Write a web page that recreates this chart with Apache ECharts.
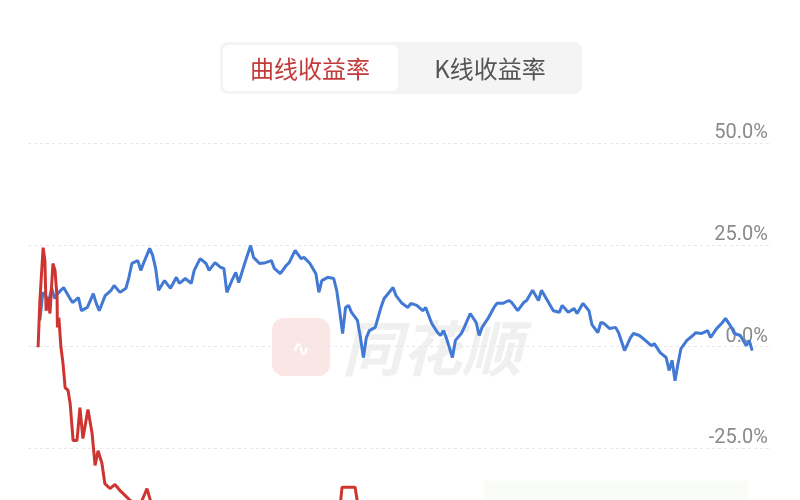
<!DOCTYPE html>
<html>
<head>
<meta charset="utf-8">
<script src="https://cdn.jsdelivr.net/npm/echarts@6/dist/echarts.min.js"></script>
<style>
html,body{margin:0;padding:0;background:#fff;overflow:hidden;}
#c{width:800px;height:560px;}
</style>
</head>
<body>
<div id="c"></div>
<script>
// Trading-day index (x) and return in % (y)
const blueDays = [4,5,7,8,9,10,12,14,15,17,18,20,22,23,24,26,28,29,31,33,34,35,37,38,39,41,42,43,44,46,48,50,51,53,55,56,58,60,61,63,65,66,67,69,70,71,73,75,76,78,80,82,83,85,87,88,90,92,93,95,97,98,99,101,103,104,105,106,107,108,109,111,112,113,114,115,117,119,120,123,124,126,128,129,131,133,134,136,138,139,140,141,143,144,146,147,149,151,152,153,155,157,158,160,162,163,165,167,168,170,172,173,175,177,179,180,182,184,185,187,189,190,192,193,194,196,198,199,201,203,204,206,208,210,211,213,215,216,217,218,219,220,222,224,225,227,229,230,232,234,235,237,238,240,242,243,244];
const blueVals = [6.4,13.3,11.3,14.3,11.8,13.0,14.5,12.0,10.8,12.0,8.8,9.6,13.0,10.6,8.8,12.5,13.8,15.0,13.3,14.3,17.0,20.4,21.1,18.7,20.6,24.1,22.4,19.2,13.8,16.2,14.3,17.0,15.5,16.7,15.5,18.7,21.6,20.4,18.7,20.6,19.4,19.2,13.3,16.7,18.2,15.7,20.4,24.8,21.9,20.4,20.6,21.1,19.2,17.9,19.9,20.6,23.6,21.6,21.9,20.4,17.9,13.3,16.2,17.0,16.7,13.8,8.8,3.2,9.6,10.1,8.4,6.4,2.2,-2.7,2.2,3.9,4.7,9.8,11.8,14.5,12.5,10.6,9.6,10.6,10.1,8.8,9.6,5.7,3.4,2.7,3.9,2.0,-2.7,1.5,3.2,4.7,8.1,5.9,2.7,4.7,6.9,9.6,10.6,10.6,11.3,10.8,8.8,10.8,11.3,13.8,11.3,13.8,11.3,8.8,8.4,10.1,8.4,9.3,8.1,10.6,8.8,5.4,3.4,5.9,5.7,4.4,4.7,3.4,-1.0,2.2,3.2,2.7,1.5,0.2,0.7,-1.5,-2.7,-5.9,-3.4,-8.4,-4.2,-0.5,1.5,2.7,3.4,3.2,3.9,2.2,4.4,5.9,6.9,4.7,3.2,2.7,0.2,1.5,-1.0];

const redDays = [3.4,4.0,5.1,5.7,6.1,6.7,7.4,8.4,9.1,9.8,9.9,10.4,11.1,11.8,12.5,13.5,14.2,15.2,16.5,17.5,18.5,20.2,21.6,22.6,23.6,24.9,25.9,27.6,29.3,31.0,32.0,34.4,37.7,40.1,41.8,58,78,98,105,105.8,110.2,111.2,115];
const redVals = [-0.2,11.3,24.3,21.1,8.8,12.0,8.1,20.4,18.7,12.0,4.7,7.1,-0.2,-4.2,-10.1,-10.8,-14.0,-23.1,-23.1,-15.0,-22.6,-15.5,-21.4,-29.2,-25.6,-28.7,-33.7,-34.9,-33.9,-35.4,-36.1,-37.8,-39.0,-34.9,-39.3,-41.5,-42.8,-42.3,-40.3,-34.6,-34.6,-39.1,-41.5];

const yTicks = [-50, -25, 0, 25, 50];
const tabs = ['曲线收益率', 'K线收益率'];

const chart = echarts.init(document.getElementById('c'), null, {renderer: 'canvas'});
const blueData = blueDays.map((d, i) => [d, blueVals[i]]);
const redData = redDays.map((d, i) => [d, redVals[i]]);

chart.setOption({
  backgroundColor: '#ffffff',
  animation: false,
  grid: {left: 28, right: 30, top: 143, height: 407},
  xAxis: {
    type: 'value', min: 0, max: 250,
    show: false
  },
  yAxis: {
    type: 'value', position: 'right',
    min: yTicks[0], max: yTicks[yTicks.length - 1], interval: 25,
    axisLine: {show: false}, axisTick: {show: false},
    axisLabel: {
      inside: true, margin: 2, verticalAlign: 'bottom',
      color: '#8a8a8a', fontSize: 20, fontFamily: 'Roboto, "Noto Sans", sans-serif',
      padding: [0, 0, 0, 0],
      formatter: v => v.toFixed(1) + '%'
    },
    splitLine: {lineStyle: {color: '#e8e8e8', type: [3, 3], width: 1}}
  },
  graphic: [
    {type: 'rect', shape: {x: 220, y: 42, width: 362, height: 52, r: 8}, style: {fill: '#f4f4f4'}, z: 1},
    {type: 'rect', shape: {x: 223, y: 45, width: 175, height: 46, r: 6}, style: {fill: '#ffffff'}, z: 2},
    {type: 'text', x: 310, y: 69, style: {text: tabs[0], fill: '#c43a3a', font: '24px "Noto Sans CJK SC"', textAlign: 'center', textVerticalAlign: 'middle'}, z: 3},
    {type: 'text', x: 490, y: 69, style: {text: tabs[1], fill: '#555555', font: '24px "Noto Sans CJK SC"', textAlign: 'center', textVerticalAlign: 'middle'}, z: 3},
    // watermark
    {type: 'rect', shape: {x: 272, y: 318, width: 58, height: 58, r: 12}, style: {fill: '#fbe6e6'}, z: -1},
    {type: 'text', x: 301, y: 350, style: {text: '∿', fill: '#ffffff', font: 'bold 22px "DejaVu Sans"', textAlign: 'center', textVerticalAlign: 'middle'}, z: -1},
    {type: 'text', x: 432, y: 348, style: {text: '同花顺', fill: '#f0f0f0', font: 'italic bold 60px "Noto Sans CJK SC"', textAlign: 'center', textVerticalAlign: 'middle'}, z: -1},
    {type: 'rect', shape: {x: 484, y: 481, width: 264, height: 19, r: 3}, style: {fill: '#fafcf8'}, z: -1}
  ],
  series: [
    {type: 'line', data: blueData, showSymbol: false, lineStyle: {color: '#4179d4', width: 3}, z: 3},
    {type: 'line', data: redData, showSymbol: false, lineStyle: {color: '#cf3530', width: 3}, z: 4}
  ]
});
</script>
</body>
</html>
